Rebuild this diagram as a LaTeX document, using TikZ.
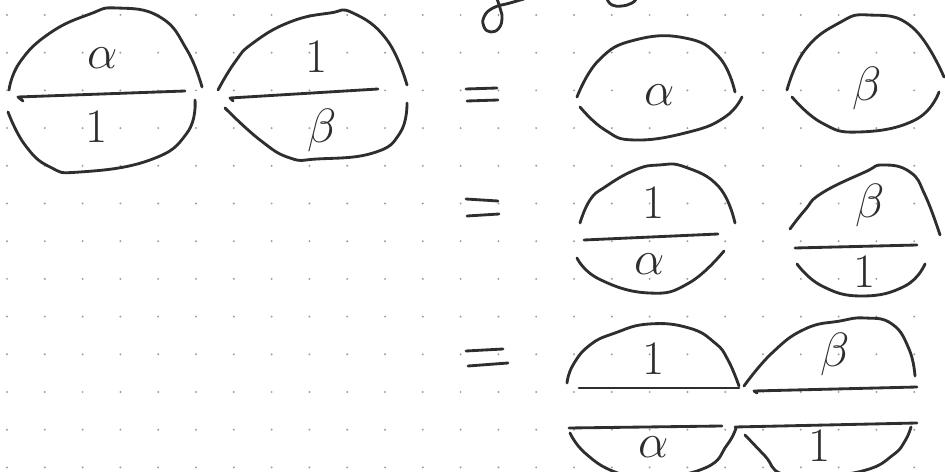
\documentclass[tikz,border=0pt]{standalone}
\usepackage{tikz}

\begin{document}
\begin{tikzpicture}[x=0.3mm, y=-0.3mm,
  pen/.style={line width=0.85mm, line cap=round, line join=round, black!82},
  sym/.style={font=\Huge, scale=1.65, text=black!82, inner sep=0pt},
  dot/.style={fill=black!38}]
\useasboundingbox (0,0) rectangle (945,472);
\tikzset{every plot/.style={smooth, tension=0.8}}
% dotted paper
\foreach \i in {0,...,24}
  \foreach \j in {0,...,12}
    \fill[dot] ({7+37.8*\i},{15+37.7*\j}) circle (0.33mm);
% cut-off writing at the top
\draw[pen] plot coordinates {(497,-1) (500,8) (502,18) (499,28) (491,32) (484,27) (484,17) (493,8) (510,3) (524,-1)};
\draw[pen] plot coordinates {(607,-1) (612,5) (622,6) (632,3) (636,-1)};
% left side: alpha/1 and 1/beta
\draw[pen] plot coordinates {(9,90) (20,62) (50,33) (90,14) (117,8) (160,17) (187,50) (202,87)};
\draw[pen] (23,101) -- (18,97) -- (185,91);
\draw[pen] plot coordinates {(8,112) (25,145) (50,167) (80,172) (150,160) (187,133) (195,100)};
\node[sym] (aA) at (103,58) {$\alpha$};
\node[sym] (oA) at (97,127) {$1$};
\draw[pen] plot coordinates {(218,90) (235,62) (253,43) (290,22) (330,13) (353,13) (387,40) (407,85)};
\draw[pen] (233,101) -- (230,98) -- (378,89);
\draw[pen] plot coordinates {(225,108) (260,140) (290,158) (317,159) (373,153) (400,133) (407,103)};
\node[sym] (oB) at (317,57) {$1$};
\node[sym] (bB) at (322,130) {$\beta$};
% first row on the right
\draw[pen] (466,89) -- (497,88);
\draw[pen] (467,101) -- (498,100);
\draw[pen] plot coordinates {(577,97) (599,60) (635,40) (685,38) (719,57) (735,92)};
\draw[pen] plot coordinates {(580,107) (605,130) (635,140) (689,132) (725,117) (742,97)};
\node[sym] (aC) at (660,95) {$\alpha$};
\draw[pen] plot coordinates {(787,90) (805,50) (839,23) (869,15) (912,27) (944,77)};
\draw[pen] plot coordinates {(792,97) (822,123) (859,132) (915,120) (939,92)};
\node[sym] (bD) at (867,88) {$\beta$};
% second row
\draw[pen] (466,199) -- (498,201);
\draw[pen] (467,216) -- (499,214);
\draw[pen] plot coordinates {(580,223) (590,200) (605,187) (635,170) (659,165) (685,167) (719,187) (735,223)};
\draw[pen] (584,240) -- (718,234);
\draw[pen] plot coordinates {(577,258) (599,279) (649,293) (689,283) (724,251)};
\node[sym] (oE) at (654,203) {$1$};
\node[sym] (aE) at (650,264) {$\alpha$};
\draw[pen] plot coordinates {(790,229) (805,210) (822,193) (865,172) (883,165) (910,172) (925,195) (940,235)};
\draw[pen] (795,248) -- (917,245);
\draw[pen] plot coordinates {(797,264) (822,286) (862,296) (905,286) (925,264)};
\node[sym] (bF) at (870,205) {$\beta$};
\node[sym] (oF) at (865,272) {$1$};
% third row
\draw[pen] (466,351) -- (503,349);
\draw[pen] (468,366) -- (508,363);
\draw[pen] plot coordinates {(567,383) (573,365) (590,345) (615,333) (649,324) (689,328) (715,343) (728,360) (739,386)};
\draw[pen] plot coordinates {(744,386) (772,353) (805,329) (840,321) (865,318) (892,324) (909,349) (915,376)};
\draw[pen] (579,388) -- (739,388);
\draw[pen] (757,393) -- (754,391) -- (917,387);
\node[sym] (oG) at (654,359) {$1$};
\node[sym] (bG) at (835,354) {$\beta$};
\draw[pen] (569,428) -- (722,426);
\draw[pen] (735,427) -- (917,423);
\draw[pen] plot coordinates {(570,433) (585,453) (615,472) (650,478) (705,468) (727,445) (736,428)};
\draw[pen] plot coordinates {(745,435) (765,456) (782,474) (820,476) (866,470) (893,455) (905,441) (911,427)};
\node[sym] (aH) at (654,447) {$\alpha$};
\node[sym] (oH) at (820,446) {$1$};
\end{tikzpicture}
\end{document}
